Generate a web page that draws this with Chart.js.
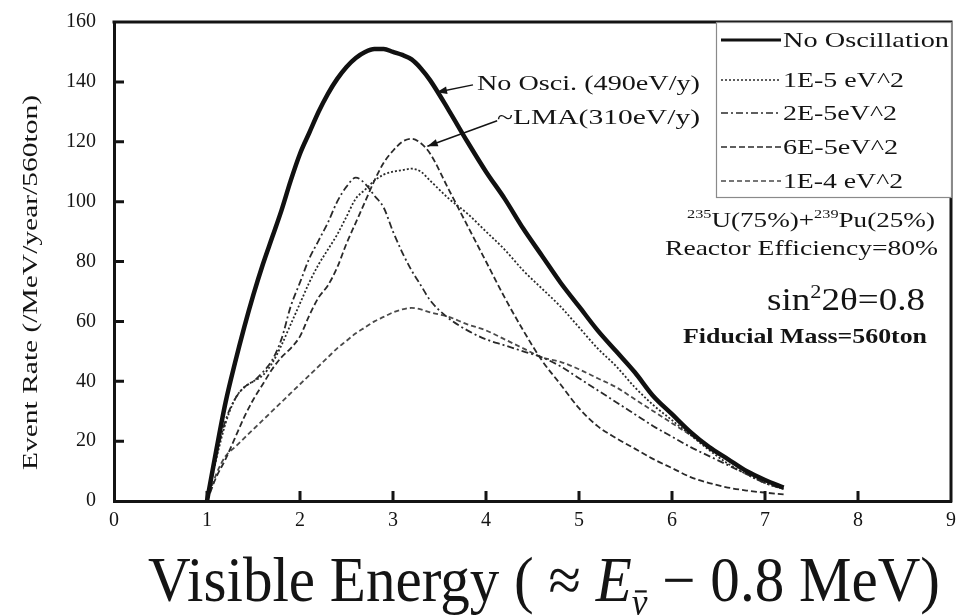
<!DOCTYPE html>
<html>
<head>
<meta charset="utf-8">
<title>Reactor antineutrino spectrum</title>
<script src="https://cdn.jsdelivr.net/npm/chart.js@4.4.1/dist/chart.umd.min.js"></script>
<style>
  html, body { margin: 0; padding: 0; background: #fff; }
  #wrap { width: 963px; height: 615px; }
</style>
</head>
<body>
<div id="wrap"><canvas id="spectrum" width="963" height="615"></canvas></div>
<script>
// visible energy grid (MeV)
const energy = [1.0, 1.1, 1.2, 1.3, 1.4, 1.5, 1.6, 1.7, 1.8, 1.9,
                2.0, 2.1, 2.2, 2.3, 2.4, 2.5, 2.6, 2.7, 2.8, 2.9,
                3.0, 3.1, 3.2, 3.3, 3.4, 3.6, 3.8, 4.0, 4.2, 4.4,
                4.6, 4.8, 5.0, 5.2, 5.4, 5.6, 5.8, 6.0, 6.2, 6.4,
                6.6, 6.8, 7.0, 7.2];

// event rate (/MeV/year/560ton) for each case
const noOscillation = [0, 17, 33, 46, 58, 69, 79, 88, 97, 107,
                       116, 123, 130, 136, 141, 145, 148, 150, 151, 151,
                       150, 149, 147.5, 144.5, 140.5, 130.5, 120, 110, 101, 91,
                       82, 73, 65, 57, 50, 43, 35, 29, 23, 18,
                       14, 10, 7, 4.5];
const dm1e5 = [0, 14, 26, 34, 38, 40, 42, 46, 52, 59,
               66, 73, 79, 84, 89, 95, 101, 104, 107, 109,
               110, 110.5, 111, 110, 107, 101, 96, 90, 84, 77,
               71, 65, 58, 51, 45, 38, 32, 27, 22, 17,
               12.5, 9, 6, 4];
const dm2e5 = [0, 15, 27, 34, 38, 40, 43, 47, 54, 65,
               73, 81, 87, 93, 100, 105, 108, 106, 102, 98,
               90, 83, 77, 72, 67, 61, 57, 54, 52, 50,
               48, 45, 41, 37, 33, 29, 25, 21.5, 18, 15,
               12, 9, 6, 4];
const dm6e5 = [0, 8, 14, 21, 28, 34, 39, 44, 48, 51,
               55, 62, 68, 72, 78, 86, 93, 100, 107, 113,
               117, 120, 121, 119.5, 116, 104, 92, 80, 68, 57,
               47, 39, 31, 25, 21, 17.5, 14, 11, 8, 6,
               4.5, 3.5, 2.8, 2.2];
const dm1e4 = [0, 9, 15, 18, 21, 24, 27, 30, 33, 36,
               39, 42, 45, 48, 51, 53.5, 56, 58, 60, 61.5,
               63, 64, 64.5, 64, 63, 61.5, 59, 57, 54, 51,
               48, 46.5, 44, 41, 38, 34, 30, 26, 22, 18,
               14, 10, 7, 4.5];

const seriesLabels = ['No Oscillation', '1E-5 eV^2', '2E-5eV^2', '6E-5eV^2', '1E-4 eV^2'];

const SERIF = '"Liberation Serif", "Times New Roman", serif';
const INK = '#141414';

function toPoints(values) {
  return energy.map((e, i) => ({ x: e, y: values[i] }));
}

function runFont(r, size) {
  const s = (r.sup || r.sub) ? size * 0.6 : size;
  return (r.italic ? 'italic ' : '') + (r.bold ? 'bold ' : '') + s + 'px ' + SERIF;
}

// draws a list of text runs (plain / superscript / subscript) on one baseline,
// stretched horizontally to the given width
function drawRuns(ctx, runs, x, y, size, width, align, angle) {
  ctx.save();
  let total = 0;
  const widths = runs.map(r => {
    ctx.font = runFont(r, size);
    const w = ctx.measureText(r.t).width;
    total += w;
    return w;
  });
  const sx = width ? width / total : 1;
  ctx.translate(x, y);
  if (angle) ctx.rotate(angle);
  ctx.scale(sx, 1);
  ctx.fillStyle = INK;
  ctx.strokeStyle = INK;
  ctx.textAlign = 'left';
  ctx.textBaseline = 'alphabetic';
  let cx = align === 'right' ? -total : align === 'center' ? -total / 2 : 0;
  runs.forEach((r, i) => {
    ctx.font = runFont(r, size);
    const dy = r.sup ? -size * 0.4 : r.sub ? size * 0.22 : 0;
    ctx.fillText(r.t, cx, dy);
    if (r.bar) {
      // bar over the symbol (anti-neutrino)
      const top = dy - size * 0.6 * 0.62;
      ctx.lineWidth = size * 0.035;
      ctx.beginPath();
      ctx.moveTo(cx + widths[i] * 0.2, top);
      ctx.lineTo(cx + widths[i] * 0.95, top);
      ctx.stroke();
    }
    cx += widths[i];
  });
  ctx.restore();
}

function arrow(ctx, x1, y1, x2, y2) {
  const ang = Math.atan2(y2 - y1, x2 - x1);
  ctx.save();
  ctx.strokeStyle = INK;
  ctx.fillStyle = INK;
  ctx.lineWidth = 1.5;
  ctx.beginPath();
  ctx.moveTo(x1, y1);
  ctx.lineTo(x2, y2);
  ctx.stroke();
  ctx.beginPath();
  ctx.moveTo(x2, y2);
  ctx.lineTo(x2 - 11 * Math.cos(ang - 0.35), y2 - 11 * Math.sin(ang - 0.35));
  ctx.lineTo(x2 - 11 * Math.cos(ang + 0.35), y2 - 11 * Math.sin(ang + 0.35));
  ctx.closePath();
  ctx.fill();
  ctx.restore();
}

const datasets = [
  { label: seriesLabels[0], data: toPoints(noOscillation), borderColor: '#111', borderWidth: 4.5, borderDash: [] },
  { label: seriesLabels[1], data: toPoints(dm1e5), borderColor: '#2a2a2a', borderWidth: 1.8, borderDash: [2, 2] },
  { label: seriesLabels[2], data: toPoints(dm2e5), borderColor: '#2a2a2a', borderWidth: 1.8, borderDash: [7, 3, 2, 3] },
  { label: seriesLabels[3], data: toPoints(dm6e5), borderColor: '#2a2a2a', borderWidth: 1.8, borderDash: [6, 3] },
  { label: seriesLabels[4], data: toPoints(dm1e4), borderColor: '#4a4a4a', borderWidth: 1.8, borderDash: [5, 3] }
].map(d => Object.assign(d, { pointRadius: 0, fill: false, cubicInterpolationMode: 'monotone' }));

// frame, inward ticks, legend box, notes and axis titles
const decorations = {
  id: 'decorations',
  afterDraw(chart) {
    const { ctx, chartArea: a, scales: { x, y } } = chart;
    ctx.save();

    // top and right sides of the frame
    ctx.strokeStyle = INK;
    ctx.lineWidth = 3;
    ctx.beginPath();
    ctx.moveTo(a.left - 1.5, a.top);
    ctx.lineTo(a.right, a.top);
    ctx.lineTo(a.right, a.bottom + 1.5);
    ctx.stroke();

    // tick marks pointing into the plot
    ctx.lineWidth = 3;
    ctx.beginPath();
    for (let v = y.min + 20; v < y.max; v += 20) {
      const py = y.getPixelForValue(v);
      ctx.moveTo(a.left, py);
      ctx.lineTo(a.left + 10, py);
    }
    for (let v = x.min + 1; v < x.max; v += 1) {
      const px = x.getPixelForValue(v);
      ctx.moveTo(px, a.bottom);
      ctx.lineTo(px, a.bottom - 10);
    }
    ctx.stroke();

    // legend box in the top right corner
    const lx = 716, ly = 22, lw = a.right - lx + 1, lh = 176;
    ctx.fillStyle = '#fff';
    ctx.fillRect(lx, ly, lw, lh);
    ctx.strokeStyle = '#8a8a8a';
    ctx.lineWidth = 1.2;
    ctx.strokeRect(lx + 0.5, ly + 0.5, lw - 1, lh - 1);
    const rows = [40, 80, 113, 147, 181];
    const textW = [166, 121, 114, 115, 120];
    chart.data.datasets.forEach((ds, i) => {
      ctx.save();
      ctx.strokeStyle = ds.borderColor;
      ctx.lineWidth = i === 0 ? 3 : 1.4;
      ctx.setLineDash(ds.borderDash || []);
      ctx.beginPath();
      ctx.moveTo(721, rows[i]);
      ctx.lineTo(781, rows[i]);
      ctx.stroke();
      ctx.restore();
      drawRuns(ctx, [{ t: ds.label }], 783, rows[i] + 7, 21, textW[i], 'left');
    });

    // notes pointing at the curves
    drawRuns(ctx, [{ t: 'No Osci. (490eV/y)' }], 477, 90, 21, 223, 'left');
    arrow(ctx, x.getPixelForValue(3.86), y.getPixelForValue(139), x.getPixelForValue(3.47), y.getPixelForValue(136.5));
    drawRuns(ctx, [{ t: '~LMA(310eV/y)' }], 497, 124, 21, 203, 'left');
    arrow(ctx, x.getPixelForValue(4.12), y.getPixelForValue(127), x.getPixelForValue(3.37), y.getPixelForValue(118.5));

    // run conditions
    drawRuns(ctx, [{ t: '235', sup: true }, { t: 'U(75%)+' }, { t: '239', sup: true }, { t: 'Pu(25%)' }],
      687, 227, 22, 248, 'left');
    drawRuns(ctx, [{ t: 'Reactor Efficiency=80%' }], 665, 255, 22, 273, 'left');
    drawRuns(ctx, [{ t: 'sin' }, { t: '2', sup: true }, { t: '2θ=0.8' }], 767, 310, 31, 158, 'left');
    drawRuns(ctx, [{ t: 'Fiducial Mass=560ton', bold: true }], 683, 343, 21, 244, 'left');

    // axis titles
    drawRuns(ctx, [{ t: 'Event Rate (/MeV/year/560ton)' }], 37, 470, 21, 375, 'left', -Math.PI / 2);
    drawRuns(ctx, [
      { t: 'Visible Energy ( ≈ ' },
      { t: 'E', italic: true },
      { t: 'ν', italic: true, sub: true, bar: true },
      { t: ' − 0.8 MeV)' }
    ], 148, 601, 63, 792, 'left');

    ctx.restore();
  }
};

new Chart(document.getElementById('spectrum'), {
  type: 'line',
  data: { datasets: datasets },
  options: {
    responsive: false,
    animation: false,
    layout: { padding: { top: 22, right: 12, left: 0, bottom: 0 } },
    plugins: {
      legend: { display: false },
      title: { display: false },
      tooltip: { enabled: false }
    },
    scales: {
      x: {
        type: 'linear',
        min: 0,
        max: 9,
        ticks: { stepSize: 1, color: INK, font: { family: SERIF, size: 20 }, padding: 8, maxRotation: 0 },
        grid: { drawOnChartArea: false, drawTicks: false },
        border: { color: INK, width: 3 },
        afterFit: s => { s.height = 114; s.paddingLeft = 0; s.paddingRight = 0; }
      },
      y: {
        min: 0,
        max: 160,
        ticks: { stepSize: 20, color: INK, font: { family: SERIF, size: 20 }, padding: 18 },
        grid: { drawOnChartArea: false, drawTicks: false },
        border: { color: INK, width: 3 },
        // keep the plot top fixed by the layout padding alone
        afterFit: s => { s.width = 114; s.paddingTop = 0; s.paddingBottom = 0; }
      }
    }
  },
  plugins: [decorations]
});
</script>
</body>
</html>
